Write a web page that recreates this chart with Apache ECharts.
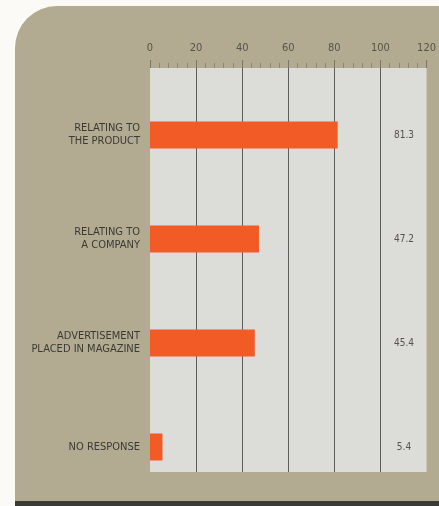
<!DOCTYPE html>
<html>
<head>
<meta charset="utf-8">
<script src="https://cdn.jsdelivr.net/npm/echarts@6/dist/echarts.min.js"></script>
<style>
html,body{margin:0;padding:0;background:#fbfaf6;}
#c{width:439px;height:506px;}
</style>
</head>
<body>
<div id="c"></div>
<script>
var categories = ['RELATING TO\nTHE PRODUCT', 'RELATING TO\nA COMPANY', 'ADVERTISEMENT\nPLACED IN MAGAZINE', 'NO RESPONSE'];
var values = [81.3, 47.2, 45.4, 5.4];
var xTicks = [0, 20, 40, 60, 80, 100, 120];

var FONT = "'Liberation Sans Narrow', 'DejaVu Sans Condensed', 'Liberation Sans', sans-serif";
var chart = echarts.init(document.getElementById('c'), null, {renderer: 'canvas'});
chart.setOption({
  backgroundColor: 'transparent',
  animation: false,
  graphic: [
    {type: 'rect', z: -10, shape: {x: 15, y: 6, width: 430, height: 500, r: [42, 0, 0, 0]}, style: {fill: '#b2ab91'}},
    {type: 'rect', z: -9, shape: {x: 15, y: 501, width: 430, height: 5}, style: {fill: '#3a3a36'}}
  ],
  grid: [
    {left: 150, top: 68, width: 277, height: 404, show: true, backgroundColor: '#dcdcd9', borderWidth: 0},
    {left: 150, top: 83, width: 277, height: 416}
  ],
  xAxis: [
    {
      type: 'value', gridIndex: 0, position: 'top', min: xTicks[0], max: xTicks[xTicks.length - 1], interval: 20,
      axisLine: {show: false, onZero: false},
      axisTick: {show: true, inside: false, length: 8, lineStyle: {color: '#7a776a', width: 1}},
      minorTick: {show: true, splitNumber: 5, length: 5, lineStyle: {color: '#8a8778'}},
      splitLine: {show: true, showMinLine: false, showMaxLine: false, lineStyle: {color: '#5e5e5a', width: 1}},
      axisLabel: {margin: 14, fontSize: 11, color: '#55534a', fontFamily: FONT,
        formatter: function (v) { return xTicks.indexOf(v) >= 0 ? String(v) : ''; }}
    },
    {type: 'value', gridIndex: 1, min: 0, max: 120, show: false}
  ],
  yAxis: [
    {type: 'value', gridIndex: 0, show: false},
    {
      type: 'category', gridIndex: 1, inverse: true, data: categories,
      axisLine: {show: false}, axisTick: {show: false},
      axisLabel: {margin: 10, fontSize: 11, lineHeight: 13, color: '#3a3a34', fontFamily: FONT, align: 'right'}
    },
    {
      type: 'category', gridIndex: 1, inverse: true, position: 'right',
      data: values.map(function (v) { return v.toFixed(1); }),
      axisLine: {show: false}, axisTick: {show: false},
      axisLabel: {inside: true, margin: 23, align: 'center', fontSize: 10, color: '#55534a', fontFamily: FONT}
    }
  ],
  series: [{
    type: 'bar', xAxisIndex: 1, yAxisIndex: 1, data: values, barWidth: 27,
    itemStyle: {color: '#f25a26'}
  }]
});
</script>
</body>
</html>
